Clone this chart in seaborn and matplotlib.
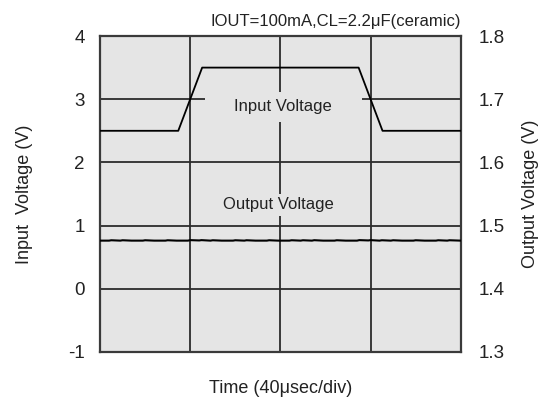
import numpy as np
import pandas as pd
import matplotlib
matplotlib.use("Agg")
import matplotlib.pyplot as plt
from matplotlib.patches import Rectangle
import seaborn as sns

# input step waveform (time in usec, volts)
input_time = [0, 34.7, 45.3, 114.7, 125.3, 160]
input_volt = [2.5, 2.5, 3.5, 3.5, 2.5, 2.5]

# output voltage trace (right axis, volts)
output_time = [0, 4, 5, 9, 10, 14, 15, 19, 20, 24, 25, 29, 30, 34, 35, 39, 40, 44, 45, 49,
               50, 54, 55, 59, 60, 64, 65, 69, 70, 74, 75, 79, 80, 84, 85, 89, 90, 94, 95, 99,
               100, 104, 105, 109, 110, 114, 115, 119, 120, 124, 125, 129, 130, 134, 135, 139,
               140, 144, 145, 149, 150, 154, 155, 160]
output_volt = [1.4762, 1.4762, 1.4768, 1.4762, 1.4768, 1.4762, 1.4762, 1.4762, 1.4768, 1.4762,
               1.4762, 1.4762, 1.4768, 1.4762, 1.4762, 1.4762, 1.4770, 1.4765, 1.4770, 1.4762,
               1.4768, 1.4762, 1.4762, 1.4762, 1.4768, 1.4762, 1.4768, 1.4762, 1.4762, 1.4762,
               1.4768, 1.4762, 1.4762, 1.4762, 1.4768, 1.4762, 1.4768, 1.4762, 1.4769, 1.4762,
               1.4762, 1.4762, 1.4768, 1.4762, 1.4762, 1.4762, 1.4770, 1.4765, 1.4770, 1.4762,
               1.4768, 1.4762, 1.4768, 1.4762, 1.4762, 1.4762, 1.4768, 1.4762, 1.4762, 1.4762,
               1.4768, 1.4762, 1.4768, 1.4762]

left_ticks = [-1, 0, 1, 2, 3, 4]
right_ticks = [1.3, 1.4, 1.5, 1.6, 1.7, 1.8]
time_divs = [0, 40, 80, 120, 160]

sns.set_style("white")
plt.rcParams["font.family"] = ["Liberation Sans", "DejaVu Sans"]

bg = "#e5e5e5"
ink = "#222222"

fig = plt.figure(figsize=(5.52, 4.05), dpi=100)
ax = fig.add_axes([0.1812, 0.1309, 0.6535, 0.7802])
ax.set_facecolor(bg)
ax.set_axisbelow(True)

df_in = pd.DataFrame({"t": input_time, "v": input_volt})
sns.lineplot(data=df_in, x="t", y="v", ax=ax, color="black", lw=1.3,
             sort=False, zorder=3)

ax.set_xlim(0, 160)
ax.set_ylim(-1, 4)
ax.set_xticks(time_divs)
ax.set_xticklabels([])
ax.set_yticks(left_ticks)
ax.set_yticklabels([str(t) for t in left_ticks])
ax.tick_params(axis="both", length=0, labelsize=13.5, colors=ink)
ax.tick_params(axis="y", pad=11)
ax.grid(True, color="#2b2b2b", lw=1.3)
for s in ax.spines.values():
    s.set_color("#3a3a3a")
    s.set_linewidth(1.6)

# cut-outs in the grid behind the annotations
ax.add_patch(Rectangle((46.7, 2.64), 69.3, 0.475, facecolor=bg,
                       edgecolor="none", zorder=1))
ax.text(81, 2.88, "Input Voltage", ha="center", va="center",
        fontsize=12, color=ink, zorder=4)
ax.text(79, 1.33, "Output Voltage", ha="center", va="center", fontsize=12,
        color=ink, zorder=4,
        bbox=dict(facecolor=bg, edgecolor="none", pad=2.5))

ax.set_xlabel("Time (40\u03bcsec/div)", fontsize=13, color=ink, labelpad=17)
ax.set_ylabel("Input  Voltage (V)", fontsize=13, color=ink)
ax.yaxis.set_label_coords(-0.185, 0.5)
ax.set_title("IOUT=100mA,CL=2.2\u03bcF(ceramic)", loc="right", fontsize=12,
             color=ink, pad=7)

ax2 = ax.twinx()
df_out = pd.DataFrame({"t": output_time, "v": output_volt})
sns.lineplot(data=df_out, x="t", y="v", ax=ax2, color="black", lw=1.5)
ax2.set_ylim(1.3, 1.8)
ax2.set_yticks(right_ticks)
ax2.set_yticklabels([f"{t:.1f}" for t in right_ticks])
ax2.tick_params(axis="y", length=0, labelsize=13.5, colors=ink, pad=13)
ax2.set_ylabel("Output Voltage (V)", fontsize=13, color=ink)
ax2.yaxis.set_label_coords(1.17, 0.5)
for s in ax2.spines.values():
    s.set_visible(False)

fig.savefig("out.png", dpi=100)
